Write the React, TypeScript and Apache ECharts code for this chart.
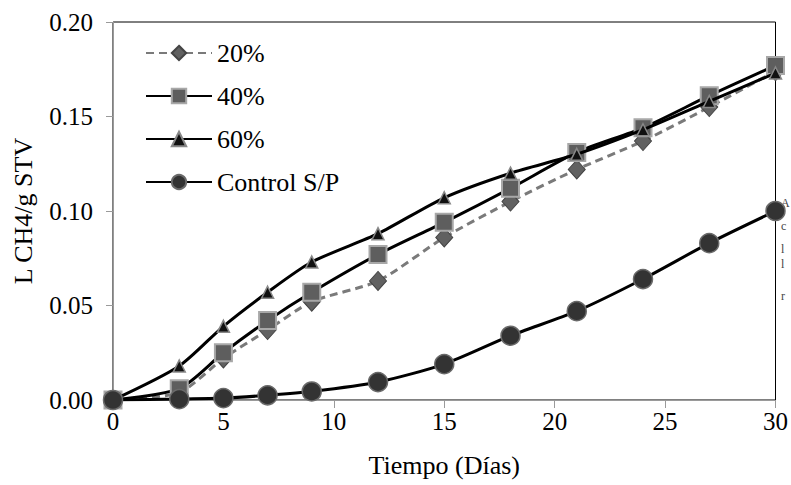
import React, { useEffect, useRef } from "react";
import * as echarts from "echarts";

const days = [0, 3, 5, 7, 9, 12, 15, 18, 21, 24, 27, 30];
const s20 = [0, 0.004, 0.022, 0.037, 0.052, 0.063, 0.086, 0.105, 0.122, 0.137, 0.155, 0.174];
const s40 = [0, 0.006, 0.025, 0.042, 0.057, 0.077, 0.094, 0.112, 0.131, 0.144, 0.161, 0.177];
const s60 = [0, 0.018, 0.039, 0.057, 0.073, 0.088, 0.107, 0.120, 0.130, 0.143, 0.158, 0.173];
const sCtrl = [0, 0.0005, 0.001, 0.0025, 0.0045, 0.0095, 0.019, 0.034, 0.047, 0.064, 0.083, 0.100];
const seriesNames = ["20%", "40%", "60%", "Control S/P"];
const xTicks = [0, 5, 10, 15, 20, 25, 30];
const sideFragments = ["A", "c", "l", "l", "r"];

const FONT = "'Liberation Serif', 'Times New Roman', serif";

function pairs(ys: number[]) {
  return days.map((d, i) => [d, ys[i]]);
}

export default function App() {
  const ref = useRef<HTMLDivElement>(null);
  useEffect(() => {
    if (!ref.current) return;
    const chart = echarts.init(ref.current, undefined, { renderer: "svg" });
    const sideY = [203, 226, 249, 264, 296];
    chart.setOption({
      animation: false,
      backgroundColor: "#fff",
      textStyle: { fontFamily: FONT },
      grid: {
        left: 113,
        right: 13,
        top: 22,
        bottom: 85,
        show: true,
        borderColor: "#000",
        borderWidth: 1,
      },
      legend: {
        orient: "vertical",
        left: 140,
        top: 35,
        itemWidth: 66,
        itemHeight: 18,
        itemGap: 17,
        textStyle: { fontFamily: FONT, fontSize: 26, color: "#000" },
        data: seriesNames,
      },
      xAxis: {
        type: "value",
        min: 0,
        max: 30,
        interval: 5,
        name: "Tiempo (Días)",
        nameLocation: "middle",
        nameGap: 52,
        nameTextStyle: { fontFamily: FONT, fontSize: 26, color: "#000" },
        axisLine: { show: true, onZero: false, lineStyle: { color: "#9a9a9a", width: 1 } },
        axisTick: { show: true, length: 8, lineStyle: { color: "#9a9a9a" } },
        axisLabel: {
          fontFamily: FONT,
          fontSize: 25,
          color: "#000",
          margin: 9,
          customValues: xTicks,
        },
        splitLine: { show: false },
      },
      yAxis: {
        type: "value",
        min: 0,
        max: 0.2,
        interval: 0.05,
        name: "L CH4/g STV",
        nameLocation: "middle",
        nameRotate: 90,
        nameGap: 77,
        nameTextStyle: { fontFamily: FONT, fontSize: 26, color: "#000" },
        axisLine: { show: true, lineStyle: { color: "#9a9a9a", width: 1 } },
        axisTick: { show: true, length: 7, lineStyle: { color: "#9a9a9a" } },
        axisLabel: {
          fontFamily: FONT,
          fontSize: 25,
          color: "#000",
          margin: 20,
          formatter: (v: number) => v.toFixed(2),
        },
        splitLine: { show: false },
      },
      graphic: sideFragments.map((t, i) => ({
        type: "text",
        left: 781,
        top: sideY[i] - 6,
        style: { text: t, fontFamily: FONT, fontSize: 12, fill: "#444" },
      })),
      series: [
        {
          name: seriesNames[0],
          type: "line",
          data: pairs(s20),
          smooth: 0.25,
          symbol: "diamond",
          symbolSize: [17, 19],
          lineStyle: { color: "#7a7a7a", width: 3, type: [8, 5] },
          itemStyle: { color: "#616161", borderColor: "#444", borderWidth: 1 },
          z: 2,
        },
        {
          name: seriesNames[1],
          type: "line",
          data: pairs(s40),
          smooth: 0.25,
          symbol: "rect",
          symbolSize: 17,
          lineStyle: { color: "#000", width: 3 },
          itemStyle: { color: "#5e5e5e", borderColor: "#a8a8a8", borderWidth: 2 },
          z: 3,
        },
        {
          name: seriesNames[2],
          type: "line",
          data: pairs(s60),
          smooth: 0.25,
          symbol: "triangle",
          symbolSize: 12,
          lineStyle: { color: "#000", width: 3 },
          itemStyle: { color: "#111", borderColor: "#888", borderWidth: 1.5 },
          z: 4,
        },
        {
          name: seriesNames[3],
          type: "line",
          data: pairs(sCtrl),
          smooth: 0.25,
          symbol: "circle",
          symbolSize: 19,
          lineStyle: { color: "#000", width: 3 },
          itemStyle: { color: "#333", borderColor: "#6a6a6a", borderWidth: 1.5 },
          z: 5,
        },
      ],
    });
    return () => chart.dispose();
  }, []);
  return (
    <div
      ref={ref}
      style={{ position: "absolute", left: 0, top: 0, width: 791, height: 485, background: "#fff" }}
    />
  );
}
